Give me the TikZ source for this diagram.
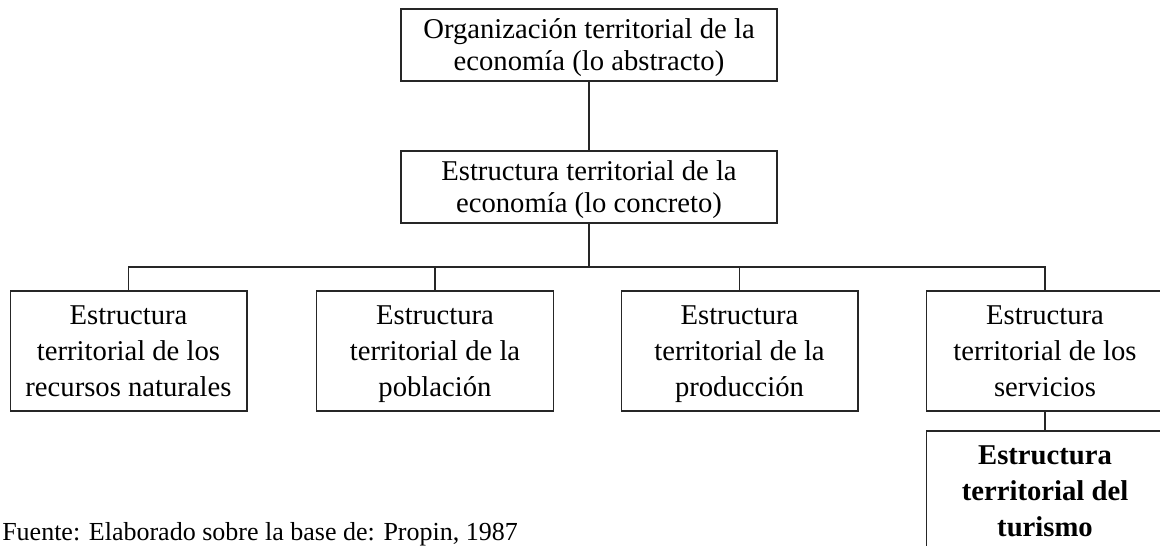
\documentclass[tikz,border=0pt]{standalone}
\usepackage{fontspec}
\setmainfont{Liberation Serif}
\newcommand{\nodp}[1]{\raisebox{0pt}[\height][0pt]{#1}}
\begin{document}
\begin{tikzpicture}[x=0.75pt,y=-0.75pt,
  boxbase/.style={draw=black!85, line width=1pt, align=center, inner sep=0pt},
  headbox/.style={boxbase, minimum width=282pt, minimum height=54pt, font=\fontsize{21.5}{24}\selectfont},
  rowbox/.style={boxbase, minimum width=177.5pt, minimum height=90pt, font=\fontsize{21.5}{27}\selectfont},
  conn/.style={draw=black!85, line width=1pt},
  srcnote/.style={anchor=base west, inner sep=0pt, font=\fontsize{19.5}{22}\selectfont}]
\useasboundingbox (0,0) rectangle (1160,546);
\node[headbox] (top) at (589,45) {Organización territorial de la\\\nodp{economía (lo abstracto)}};
\node[headbox] (mid) at (589,187) {Estructura territorial de la\\\nodp{economía (lo concreto)}};
\node[rowbox] (b1) at (128.5,351) {Estructura\\territorial de los\\\nodp{recursos naturales}};
\node[rowbox] (b2) at (435,351) {Estructura\\territorial de la\\\nodp{población}};
\node[rowbox] (b3) at (739.5,351) {Estructura\\territorial de la\\\nodp{producción}};
\node[rowbox] (b4) at (1045,351) {Estructura\\territorial de los\\\nodp{servicios}};
\node[rowbox, font=\bfseries\fontsize{21.5}{27}\selectfont] (b5) at (1045,491) {Estructura\\territorial del\\\nodp{turismo}};
\coordinate (j) at (589,267);
\draw[conn] (top.south) -- (mid.north);
\draw[conn] (mid.south) -- (j);
\draw[conn] (b1.north) -- (b1.north |- j) -- (b4.north |- j) -- (b4.north);
\draw[conn] (b2.north) -- (b2.north |- j);
\draw[conn] (b3.north) -- (b3.north |- j);
\draw[conn] (b4.south) -- (b5.north);
\node[srcnote] (src) at (2,540) {Fuente: Elaborado sobre la base de: Propin, 1987};
\end{tikzpicture}
\end{document}
